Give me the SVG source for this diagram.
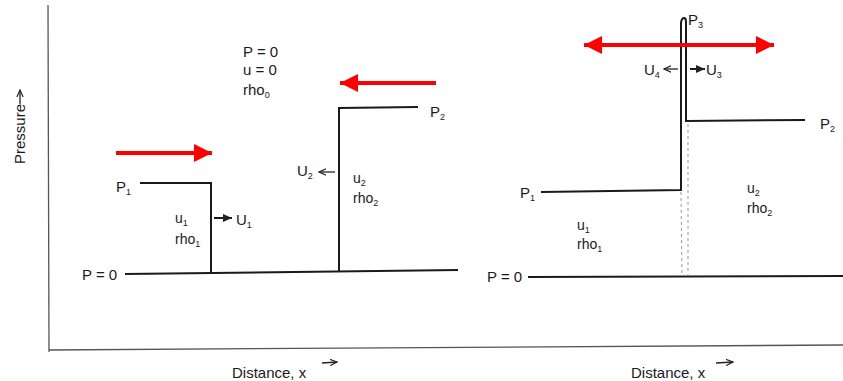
<svg xmlns="http://www.w3.org/2000/svg" width="843" height="381" viewBox="0 0 843 381">
<defs>
<marker id="redhead" viewBox="0 0 10 10" refX="10" refY="5" markerWidth="4.5" markerHeight="4.5" markerUnits="strokeWidth" orient="auto-start-reverse"><path d="M0,0 L10,5 L0,10 z" fill="#ff0000"/></marker>
<marker id="blkhead" viewBox="0 0 10 10" refX="9" refY="5" markerWidth="5" markerHeight="5" markerUnits="strokeWidth" orient="auto"><path d="M0,1 L9,5 L0,9 z" fill="#222"/></marker>
<marker id="thinhead" viewBox="0 0 10 10" refX="9" refY="5" markerWidth="6" markerHeight="6" markerUnits="strokeWidth" orient="auto"><path d="M0,1 L9,5 L0,9" fill="none" stroke="#222" stroke-width="1.5"/></marker>
</defs>
<style>
text{font-family:"Liberation Sans",Arial,sans-serif;font-size:15px;fill:#1a1a1a}
.sub{font-size:9px}
.sm{font-size:14px}
.ln{stroke:#1a1a1a;stroke-width:2;fill:none}
.ax{stroke:#555;stroke-width:1.3;fill:none}
.red{stroke:#ff0000;stroke-width:4;fill:none}
.dash{stroke:#999;stroke-width:1;stroke-dasharray:3,3;fill:none}
.tiny{stroke:#222;stroke-width:1.3;fill:none}
</style>
<rect width="843" height="381" fill="#ffffff"/>

<g id="axes">
<line class="ax" x1="48" y1="5" x2="49" y2="352"/>
<line class="ax" x1="49" y1="350" x2="843" y2="345"/>
<text transform="translate(25,164) rotate(-90)" font-size="14">Pressure</text>
<line class="tiny" x1="20" y1="104" x2="20" y2="90" marker-end="url(#thinhead)"/>
<text x="232" y="378">Distance, x</text>
<line class="tiny" x1="322" y1="363" x2="337" y2="362" marker-end="url(#thinhead)"/>
<text x="631" y="378">Distance, x</text>
<line class="tiny" x1="716" y1="363" x2="733" y2="362" marker-end="url(#thinhead)"/>
</g>

<g id="left-panel">
<line class="ln" x1="125" y1="274" x2="458" y2="270"/>
<polyline class="ln" points="140,183 211,183 211,273"/>
<polyline class="ln" points="418,107 339,108 339,272"/>
<text x="82" y="280">P = 0</text>
<text x="116" y="192">P<tspan class="sub" dy="3">1</tspan></text>
<text x="430" y="117">P<tspan class="sub" dy="3">2</tspan></text>
<text x="243" y="57">P = 0</text>
<text x="243" y="75">u = 0</text>
<text x="243" y="95">rho<tspan class="sub" dy="3">0</tspan></text>
<text x="175" y="223" class="sm">u<tspan class="sub" dy="3">1</tspan></text>
<text x="175" y="244" class="sm">rho<tspan class="sub" dy="3">1</tspan></text>
<line class="ln" x1="214" y1="218" x2="232" y2="218" marker-end="url(#blkhead)"/>
<text x="236" y="225">U<tspan class="sub" dy="3">1</tspan></text>
<text x="297" y="176">U<tspan class="sub" dy="3">2</tspan></text>
<line class="tiny" x1="335" y1="172" x2="319" y2="172" marker-end="url(#thinhead)"/>
<text x="353" y="183" class="sm">u<tspan class="sub" dy="3">2</tspan></text>
<text x="353" y="203" class="sm">rho<tspan class="sub" dy="3">2</tspan></text>
<line class="red" x1="116" y1="153" x2="212" y2="153" marker-end="url(#redhead)"/>
<line class="red" x1="436" y1="83" x2="340" y2="83" marker-end="url(#redhead)"/>
</g>

<g id="right-panel">
<line class="ln" x1="528" y1="277" x2="843" y2="276"/>
<polyline class="ln" points="541,192 681,190 681,22"/>
<path class="ln" d="M681,22 Q682,18 684,18 Q686,18 686,22 L686,121 L805,120"/>
<line class="dash" x1="681" y1="192" x2="682" y2="276"/>
<line class="dash" x1="688" y1="124" x2="688" y2="276"/>
<text x="487" y="282">P = 0</text>
<text x="520" y="198">P<tspan class="sub" dy="3">1</tspan></text>
<text x="820" y="129">P<tspan class="sub" dy="3">2</tspan></text>
<text x="688" y="25">P<tspan class="sub" dy="3">3</tspan></text>
<text x="644" y="75">U<tspan class="sub" dy="3">4</tspan></text>
<line class="tiny" x1="678" y1="69" x2="664" y2="69" marker-end="url(#thinhead)"/>
<line class="ln" x1="690" y1="69" x2="705" y2="69" marker-end="url(#blkhead)"/>
<text x="706" y="75">U<tspan class="sub" dy="3">3</tspan></text>
<text x="747" y="193" class="sm">u<tspan class="sub" dy="3">2</tspan></text>
<text x="747" y="213" class="sm">rho<tspan class="sub" dy="3">2</tspan></text>
<text x="577" y="230" class="sm">u<tspan class="sub" dy="3">1</tspan></text>
<text x="577" y="249" class="sm">rho<tspan class="sub" dy="3">1</tspan></text>
<line class="red" x1="584" y1="45" x2="774" y2="45" marker-start="url(#redhead)" marker-end="url(#redhead)"/>
</g>
</svg>
